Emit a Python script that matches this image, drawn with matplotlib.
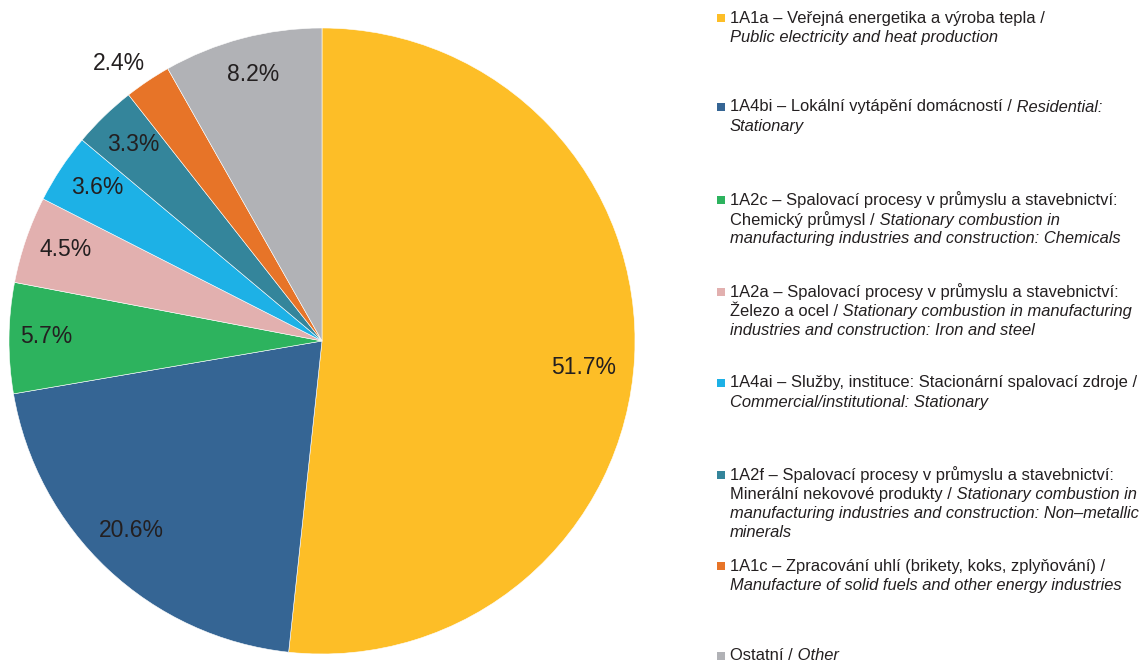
import matplotlib
matplotlib.use("Agg")
import matplotlib.pyplot as plt
import numpy as np
from matplotlib.patches import Rectangle

# ---- data ----
categories = ["1A1a", "1A4bi", "1A2c", "1A2a", "1A4ai", "1A2f", "1A1c", "Ostatní"]
values = [51.7, 20.6, 5.7, 4.5, 3.6, 3.3, 2.4, 8.2]
pct_labels = ["51.7%", "20.6%", "5.7%", "4.5%", "3.6%", "3.3%", "2.4%", "8.2%"]
colors = ["#FDBE27", "#356594", "#2DB35E", "#E2B0AF", "#1DB1E6", "#34859B", "#E77428", "#B1B2B6"]

# legend text: list of lines, each line a list of (text, italic)
legend_lines = [
    [[("1A1a – Veřejná energetika a výroba tepla /", False)],
     [("Public electricity and heat production", True)]],
    [[("1A4bi – Lokální vytápění domácností /", False), (" Residential:", True)],
     [("Stationary", True)]],
    [[("1A2c – Spalovací procesy v průmyslu a stavebnictví:", False)],
     [("Chemický průmysl /", False), (" Stationary combustion in", True)],
     [("manufacturing industries and construction: Chemicals", True)]],
    [[("1A2a – Spalovací procesy v průmyslu a stavebnictví:", False)],
     [("Železo a ocel /", False), (" Stationary combustion in manufacturing", True)],
     [("industries and construction: Iron and steel", True)]],
    [[("1A4ai – Služby, instituce: Stacionární spalovací zdroje /", False)],
     [("Commercial/institutional: Stationary", True)]],
    [[("1A2f – Spalovací procesy v průmyslu a stavebnictví:", False)],
     [("Minerální nekovové produkty /", False), (" Stationary combustion in", True)],
     [("manufacturing industries and construction: Non–metallic", True)],
     [("minerals", True)]],
    [[("1A1c – Zpracování uhlí (brikety, koks, zplyňování) /", False)],
     [("Manufacture of solid fuels and other energy industries", True)]],
    [[("Ostatní /", False), (" Other", True)]],
]

W, H = 1145, 662
plt.rcParams['font.family'] = ['Liberation Sans', 'DejaVu Sans']
fig = plt.figure(figsize=(W / 100, H / 100), dpi=100)

cx, cy, R = 322, 341, 313
ax = fig.add_axes([(cx - R) / W, (H - cy - R) / H, 2 * R / W, 2 * R / H])
wedges, _ = ax.pie(values, colors=colors, startangle=90, counterclock=False,
                   radius=1, wedgeprops=dict(linewidth=0.4, edgecolor="white"))
ax.set_xlim(-1, 1)
ax.set_ylim(-1, 1)
ax.set_aspect("equal")
ax.axis("off")

label_r = [0.84, 0.86, 0.88, 0.87, 0.87, 0.87, 1.10, 0.88]
label_dang = [-2.7, -2.0, -0.5, -0.8, -0.8, -0.3, 2.4, -0.3]
for w, lab, r, da in zip(wedges, pct_labels, label_r, label_dang):
    ang = np.deg2rad((w.theta1 + w.theta2) / 2 + da)
    ax.text(r * np.cos(ang), r * np.sin(ang), lab, ha="center", va="center",
            fontsize=16.5, color="#231F20")

# legend
fs = 11.9
entry_y = [18, 107, 200, 292, 383, 475, 566, 656]
line_h = 19.3
x_text = 730
for i, (lines, y0) in enumerate(zip(legend_lines, entry_y)):
    sq = 8
    fig.patches.append(Rectangle((717 / W, (H - y0 - sq / 2) / H), sq / W, sq / H,
                                 transform=fig.transFigure, facecolor=colors[i],
                                 edgecolor="none"))
    for j, parts in enumerate(lines):
        y = y0 + j * line_h
        last = None
        for txt, ital in parts:
            style = "italic" if ital else "normal"
            if last is None:
                last = fig.text(x_text / W, (H - y) / H, txt, fontsize=fs,
                                style=style, ha="left", va="center", color="#231F20")
            else:
                last = fig.add_artist(matplotlib.text.Annotation(
                    txt, xy=(1, 0), xycoords=last, ha="left", va="bottom",
                    fontsize=fs, style=style, color="#231F20"))

fig.savefig("out.png", dpi=100)
